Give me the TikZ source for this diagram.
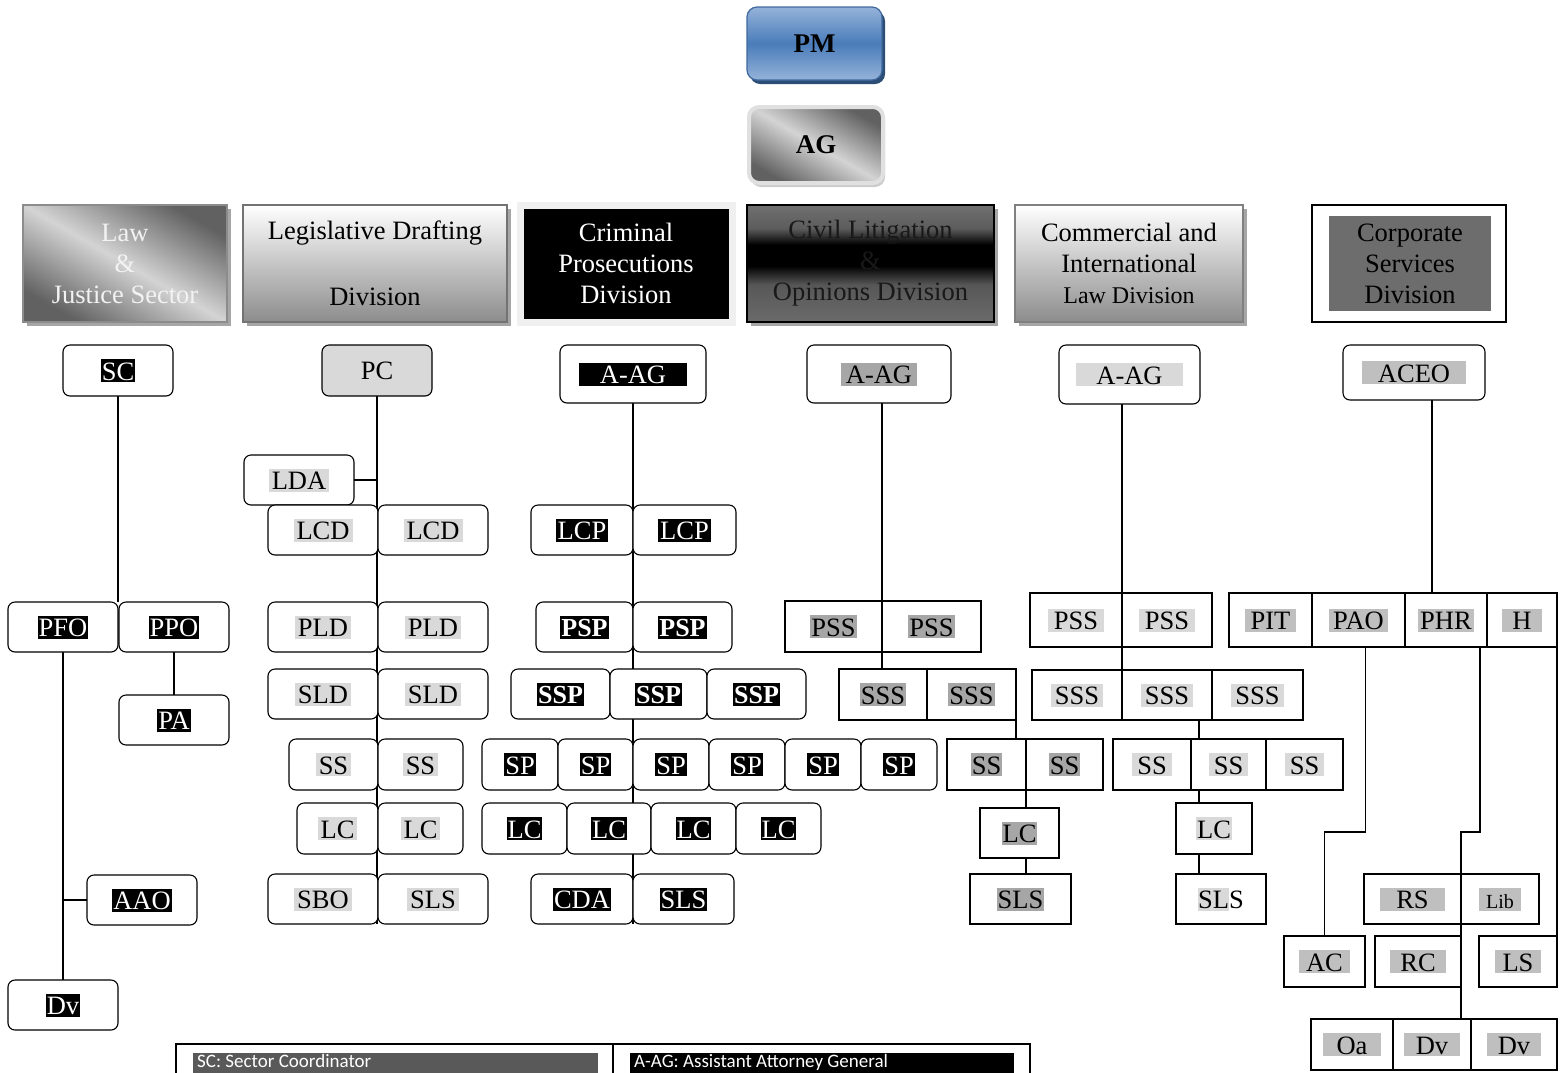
\documentclass[tikz,border=0pt]{standalone}
\usepackage{fontspec}
\setmainfont{Liberation Serif}
\newfontfamily\legfont{Carlito}
\usetikzlibrary{shadows,backgrounds,calc}

\definecolor{pmblue}{HTML}{4A7CBA}
\definecolor{pmlight}{HTML}{95B3D9}
\definecolor{pmdark}{HTML}{2C4D75}
\definecolor{hlgray}{HTML}{D9D9D9}
\definecolor{hlmid}{HTML}{BFBFBF}
\definecolor{hldark}{HTML}{A6A6A6}
\definecolor{corpfill}{HTML}{6D6D6D}
\definecolor{legsc}{HTML}{595959}

\pgfdeclarehorizontalshading{silver}{100bp}{color(0bp)=(black!62); color(25bp)=(black!62); color(50bp)=(black!17); color(75bp)=(black!62); color(100bp)=(black!62)}
\pgfdeclareverticalshading{civband}{100bp}{color(0bp)=(black!58); color(25bp)=(black!58); color(41bp)=(black!66); color(49bp)=(black); color(58bp)=(black); color(65bp)=(black!64); color(75bp)=(black!56); color(100bp)=(black!56)}

\def\orgbox[#1](#2,#3)(#4,#5)#6#7{\node[#1, minimum width={(#4-#2)*1pt}, minimum height={(#5-#3)*1pt}] (#6) at ({(#2+#4)/2},{(#3+#5)/2}) {#7};}
\newcommand\hlbox[3][3pt]{{\fboxsep=0pt\colorbox{#2}{\rule[-2pt]{0pt}{23pt}\hspace*{#1}#3\hspace*{#1}}}}

\tikzset{
  unit/.style={font=\fontsize{26.5}{31}\selectfont, inner sep=0pt, outer sep=0pt, fill=white, line width=1.1pt},
  rbox/.style={unit, draw, rounded corners=7pt},
  sbox/.style={unit, draw},
  head/.style={font=\fontsize{26.5}{31}\selectfont, align=center, inner sep=0pt, outer sep=0pt,
    drop shadow={shadow xshift=4pt, shadow yshift=-4pt, fill=black!35, opacity=1}},
  link/.style={line width=1.1pt},
  legtext/.style={text=white, font=\legfont\fontsize{19}{22}\selectfont, anchor=base west, inner sep=0pt},
}

\begin{document}
\begin{tikzpicture}[x=1pt,y=-1pt]
			%%%%% START %%%%%
			\useasboundingbox (0,0) rectangle (1567,1072);
			\clip (0,0) rectangle (1567,1072);
			
			% top
			\orgbox[rounded corners=10pt, draw=pmblue!85!black, line width=1.2pt, top color=pmlight, bottom color=pmlight, middle color=pmblue, drop shadow={shadow xshift=3pt, shadow yshift=-4pt, fill=pmdark, opacity=1}, font=\fontsize{27}{30}\selectfont\bfseries](747,7)(882,80){pm}{PM}
			\orgbox[rounded corners=10pt, draw=black!12, line width=4pt, shading=silver, shading angle=60, drop shadow={shadow xshift=2pt, shadow yshift=-4pt, fill=black!20, opacity=1}, font=\fontsize{27}{30}\selectfont\bfseries](749,107)(883,183){ag}{AG}
			
			% division heads
			\orgbox[head, draw=black!45, line width=1.5pt, shading=silver, shading angle=60, text=black!5](23,205)(227,322){hdlaw}{Law\\\&\\Justice Sector}
			\orgbox[head, draw=black!55, line width=1.5pt, top color=white, bottom color=black!45](243,205)(507,322){hdleg}{Legislative Drafting\\[35pt]Division}
			\orgbox[head, draw=black!6, line width=7pt, fill=black, text=white](520,205)(732,322){hdcrim}{Criminal\\Prosecutions\\Division}
			\orgbox[head, draw=black, line width=1.5pt, shading=civband, text=black!90](747,205)(994,322){hdciv}{Civil Litigation\\\&\\Opinions Division}
			\orgbox[head, draw=black!50, line width=1.5pt, top color=white, bottom color=black!45](1015,205)(1243,322){hdcom}{Commercial and\\International\\{\fontsize{24}{31}\selectfont Law Division}}
			\orgbox[sbox, line width=1.5pt](1312,205)(1506,322){hdcorp}{}
			\orgbox[unit, fill=corpfill, align=center](1329,216)(1491,311){hdcorpin}{Corporate\\Services\\Division}
			
			% law and justice sector
			\orgbox[rbox, text=white](63,345)(173,396){sc}{\hlbox[1pt]{black}{SC}}
			\orgbox[rbox, text=white](8,602)(118,652){pfo}{\hlbox[1pt]{black}{PFO}}
			\orgbox[rbox, text=white](119,602)(229,652){ppo}{\hlbox[1pt]{black}{PPO}}
			\orgbox[rbox, text=white](119,695)(229,745){pa}{\hlbox[1pt]{black}{PA}}
			\orgbox[rbox, text=white](87,875)(197,925){aao}{\hlbox[1pt]{black}{AAO}}
			\orgbox[rbox, text=white](8,980)(118,1030){dvl}{\hlbox[1pt]{black}{Dv}}
			
			% legislative drafting
			\orgbox[rbox, fill=hlgray](322,345)(432,396){pc}{PC}
			\orgbox[rbox](244,455)(354,505){lda}{\hlbox{hlgray}{LDA}}
			\orgbox[rbox](268,505)(378,555){lcda}{\hlbox{hlgray}{LCD}}
			\orgbox[rbox](378,505)(488,555){lcdb}{\hlbox{hlgray}{LCD}}
			\orgbox[rbox](268,602)(378,652){plda}{\hlbox{hlgray}{PLD}}
			\orgbox[rbox](378,602)(488,652){pldb}{\hlbox{hlgray}{PLD}}
			\orgbox[rbox](268,669)(378,719){slda}{\hlbox{hlgray}{SLD}}
			\orgbox[rbox](378,669)(488,719){sldb}{\hlbox{hlgray}{SLD}}
			\orgbox[rbox](289,739)(378,790){ssa}{\hlbox{hlgray}{SS}}
			\orgbox[rbox](378,739)(463,790){ssb}{\hlbox{hlgray}{SS}}
			\orgbox[rbox](297,803)(378,854){lca}{\hlbox{hlgray}{LC}}
			\orgbox[rbox](378,803)(463,854){lcb}{\hlbox{hlgray}{LC}}
			\orgbox[rbox](268,874)(378,924){sbo}{\hlbox{hlgray}{SBO}}
			\orgbox[rbox](378,874)(488,924){slsa}{\hlbox{hlgray}{SLS}}
			
			% criminal prosecutions
			\orgbox[rbox, text=white](560,345)(706,403){aagcr}{\hlbox[21pt]{black}{A-AG}}
			\orgbox[rbox, text=white](531,505)(633,555){lcpa}{\hlbox[2pt]{black}{LCP}}
			\orgbox[rbox, text=white](633,505)(736,555){lcpb}{\hlbox[2pt]{black}{LCP}}
			\orgbox[rbox, text=white, font=\fontsize{26}{31}\selectfont\bfseries](536,602)(633,652){pspa}{\hlbox[1pt]{black}{PSP}}
			\orgbox[rbox, text=white, font=\fontsize{26}{31}\selectfont\bfseries](633,602)(732,652){pspb}{\hlbox[1pt]{black}{PSP}}
			\orgbox[rbox, text=white, font=\fontsize{26}{31}\selectfont\bfseries](511,669)(610,719){sspa}{\hlbox[1pt]{black}{SSP}}
			\orgbox[rbox, text=white, font=\fontsize{26}{31}\selectfont\bfseries](610,669)(707,719){sspb}{\hlbox[1pt]{black}{SSP}}
			\orgbox[rbox, text=white, font=\fontsize{26}{31}\selectfont\bfseries](707,669)(806,719){sspc}{\hlbox[1pt]{black}{SSP}}
			\orgbox[rbox, text=white](482,739)(558,790){spa}{\hlbox[1pt]{black}{SP}}
			\orgbox[rbox, text=white](558,739)(633,790){spb}{\hlbox[1pt]{black}{SP}}
			\orgbox[rbox, text=white](633,739)(709,790){spc}{\hlbox[1pt]{black}{SP}}
			\orgbox[rbox, text=white](709,739)(785,790){spd}{\hlbox[1pt]{black}{SP}}
			\orgbox[rbox, text=white](785,739)(861,790){spe}{\hlbox[1pt]{black}{SP}}
			\orgbox[rbox, text=white](861,739)(937,790){spf}{\hlbox[1pt]{black}{SP}}
			\orgbox[rbox, text=white](482,803)(567,854){lcra}{\hlbox[1pt]{black}{LC}}
			\orgbox[rbox, text=white](567,803)(651,854){lcrb}{\hlbox[1pt]{black}{LC}}
			\orgbox[rbox, text=white](651,803)(736,854){lcrc}{\hlbox[1pt]{black}{LC}}
			\orgbox[rbox, text=white](736,803)(821,854){lcrd}{\hlbox[1pt]{black}{LC}}
			\orgbox[rbox, text=white](531,874)(633,924){cda}{\hlbox[1pt]{black}{CDA}}
			\orgbox[rbox, text=white](633,874)(734,924){slsb}{\hlbox[1pt]{black}{SLS}}
			
			% civil litigation
			\orgbox[rbox](807,345)(951,403){aagcv}{\hlbox[5pt]{hldark}{A-AG}}
			\orgbox[sbox](785,601)(882,652){pssa}{\hlbox[1pt]{hldark}{PSS}}
			\orgbox[sbox](882,601)(981,652){pssb}{\hlbox[1pt]{hldark}{PSS}}
			\orgbox[sbox](839,669)(927,720){sssa}{\hlbox[1pt]{hldark}{SSS}}
			\orgbox[sbox](927,669)(1016,720){sssb}{\hlbox[1pt]{hldark}{SSS}}
			\orgbox[sbox](947,739)(1026,790){ssca}{\hlbox[1pt]{hldark}{SS}}
			\orgbox[sbox](1026,739)(1103,790){sscb}{\hlbox[1pt]{hldark}{SS}}
			\orgbox[sbox](980,808)(1059,858){lccv}{\hlbox[1pt]{hldark}{LC}}
			\orgbox[sbox](970,874)(1071,924){slscv}{\hlbox[1pt]{hldark}{SLS}}
			
			% commercial and international
			\orgbox[rbox](1059,345)(1200,404){aagcm}{\hlbox[20pt]{hlgray}{A-AG}}
			\orgbox[sbox](1030,593)(1122,647){pssc}{\hlbox[6pt]{hlgray}{PSS}}
			\orgbox[sbox](1122,593)(1212,647){pssd}{\hlbox[6pt]{hlgray}{PSS}}
			\orgbox[sbox](1032,670)(1122,720){sssc}{\hlbox[4pt]{hlgray}{SSS}}
			\orgbox[sbox](1122,670)(1212,720){sssd}{\hlbox[4pt]{hlgray}{SSS}}
			\orgbox[sbox](1212,670)(1303,720){ssse}{\hlbox[4pt]{hlgray}{SSS}}
			\orgbox[sbox](1113,739)(1191,790){sscc}{\hlbox[5pt]{hlgray}{SS}}
			\orgbox[sbox](1191,739)(1266,790){sscd}{\hlbox[5pt]{hlgray}{SS}}
			\orgbox[sbox](1266,739)(1343,790){ssce}{\hlbox[5pt]{hlgray}{SS}}
			\orgbox[sbox](1176,803)(1252,854){lccm}{\hlbox[1pt]{hlgray}{LC}}
			\orgbox[sbox](1176,874)(1266,924){slscm}{\hlbox[0pt]{hlgray}{SL}S}
			
			% corporate services
			\orgbox[rbox](1343,345)(1485,400){aceo}{\hlbox[16pt]{hlmid}{ACEO}}
			\orgbox[sbox](1229,593)(1312,647){pit}{\hlbox[6pt]{hlmid}{PIT}}
			\orgbox[sbox](1312,593)(1405,647){pao}{\hlbox[4pt]{hlmid}{PAO}}
			\orgbox[sbox](1405,593)(1487,647){phr}{\hlbox[2pt]{hlmid}{PHR}}
			\orgbox[sbox](1487,593)(1557,647){hh}{\hlbox[10pt]{hlmid}{H}}
			\orgbox[sbox](1364,874)(1461,924){rs}{\hlbox[16pt]{hlmid}{RS}}
			\orgbox[sbox, font=\fontsize{20}{24}\selectfont](1461,874)(1539,924){lib}{\hlbox[7pt]{hlmid}{Lib}}
			\orgbox[sbox](1284,936)(1365,987){ac}{\hlbox[7pt]{hlmid}{AC}}
			\orgbox[sbox](1375,936)(1461,987){rc}{\hlbox[10pt]{hlmid}{RC}}
			\orgbox[sbox](1479,936)(1557,987){ls}{\hlbox[8pt]{hlmid}{LS}}
			\orgbox[sbox](1311,1019)(1393,1070){oa}{\hlbox[14pt]{hlmid}{Oa}}
			\orgbox[sbox](1393,1019)(1471,1070){dva}{\hlbox[12pt]{hlmid}{Dv}}
			\orgbox[sbox](1471,1019)(1557,1070){dvb}{\hlbox[11pt]{hlmid}{Dv}}
			
			% legend
			\orgbox[sbox](176,1044)(613,1110){lgl}{}
			\orgbox[sbox](613,1044)(1030,1110){lgr}{}
			\orgbox[fill=legsc, inner sep=0pt](193,1053)(598,1090){lgscbg}{}
			\orgbox[fill=black, inner sep=0pt](630,1053)(1014,1090){lgaagbg}{}
			\node[legtext] (lgsc) at (197,1067) {SC: Sector Coordinator};
			\node[legtext] (lgaag) at (634,1067) {A-AG: Assistant Attorney General};
			
			\coordinate (cmdrop) at (1199,0);
			\coordinate (csdrop) at (1432,0);
			\coordinate (cskink) at (0,832);
			
			\begin{pgfonlayer}{background}
			\draw[link] (sc.south) -- (pfo.north east);
			\draw[link] (ppo.south) -- (pa.north);
			\draw[link] (pfo.south) -- (dvl.north);
			\draw[link] (pfo.south |- aao.west) -- (aao.west);
			
			\draw[link] (pc.south) -- (pc.south |- sbo.south);
			\draw[link] (lda.east) -- (lda.east -| pc.south);
			
			\draw[link] (aagcr.south) -- (aagcr.south |- cda.south);
			
			\draw[link] (aagcv.south -| pssa.east) -- (sssa.north -| pssa.east);
			\draw[link] (sssb.south east) -- (ssca.north -| sssb.south east);
			\draw[link] (ssca.south east) -- (lccv.north -| ssca.south east);
			\draw[link] (lccv.south -| ssca.south east) -- (slscv.north -| ssca.south east);
			
			\draw[link] (aagcm.south -| pssc.east) -- (sssc.north -| pssc.east);
			\draw[link] (sssd.south -| cmdrop) -- (sscd.north -| cmdrop);
			\draw[link] (sscd.south -| cmdrop) -- (lccm.north -| cmdrop);
			\draw[link] (lccm.south -| cmdrop) -- (slscm.north -| cmdrop);
			
			\draw[link] (aceo.south -| csdrop) -- (phr.north -| csdrop);
			\draw[link] ([xshift=7pt]pao.south) |- (cskink -| ac.north) -- (ac.north);
			\draw[link] ([xshift=-7pt]phr.south east) |- (cskink -| rs.east) -- (dva.north -| rs.east);
			\draw[link] (hh.south east) -- (ls.north east);
			\end{pgfonlayer}
			%%%%% END %%%%%
\end{tikzpicture}
\end{document}
